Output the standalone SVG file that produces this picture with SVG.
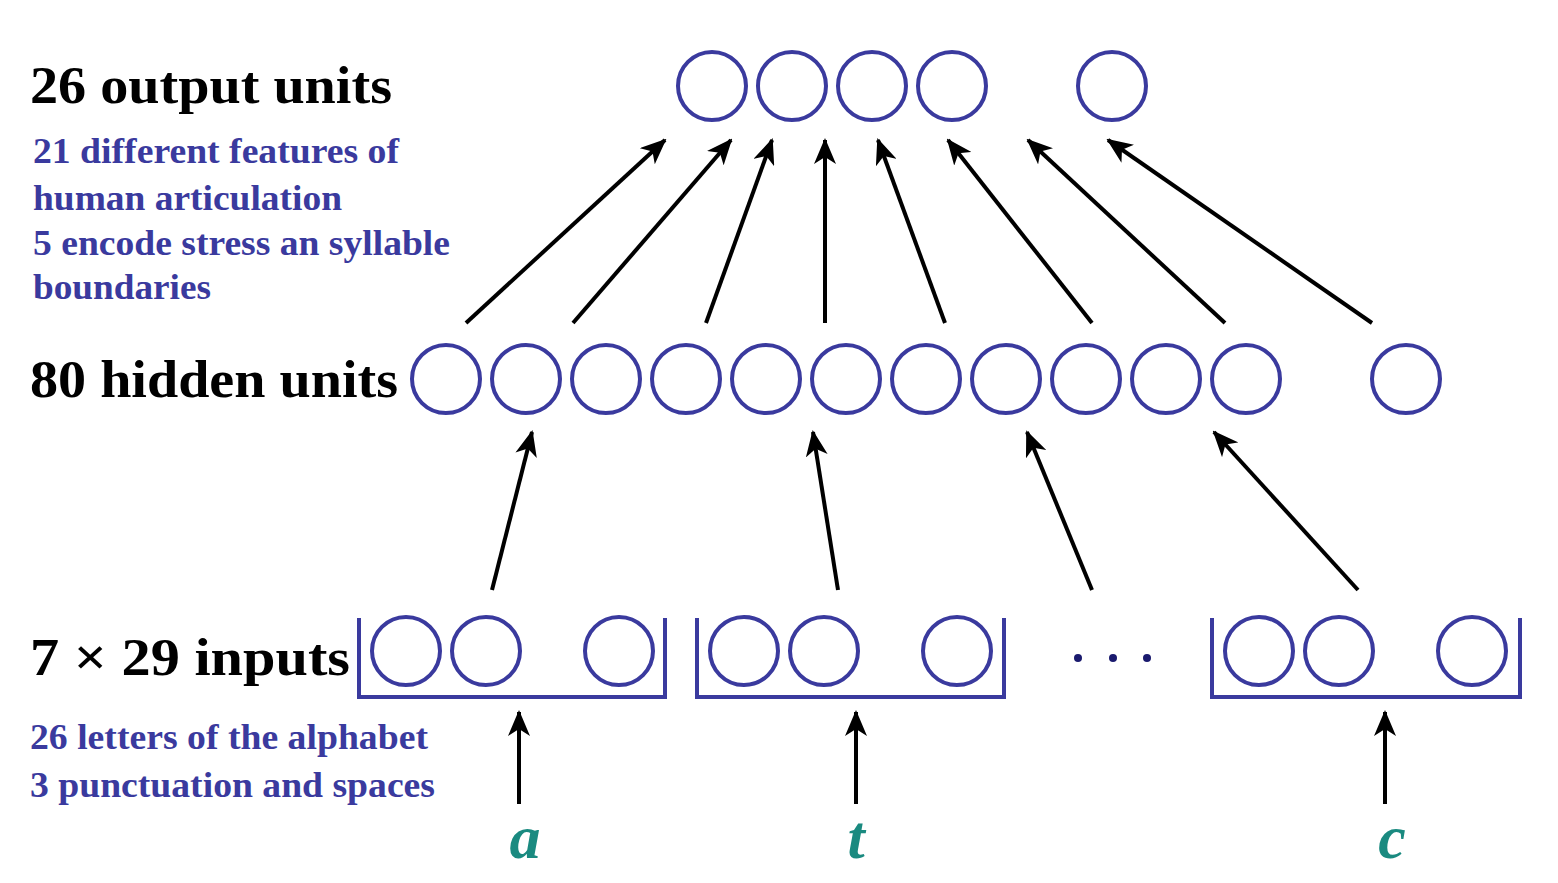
<svg xmlns="http://www.w3.org/2000/svg" width="1558" height="883" viewBox="0 0 1558 883">
<defs>
<marker id="ah" markerWidth="26" markerHeight="22" refX="24" refY="11" orient="auto" markerUnits="userSpaceOnUse" viewBox="0 0 26 22"><path d="M0,0 L26,11 L0,22 L7,11 Z" fill="#000"/></marker>
<style>
.n{fill:none;stroke:#3a3a9e;stroke-width:4}
.b{fill:none;stroke:#3a3a9e;stroke-width:4}
.c line{stroke:#000;stroke-width:4;marker-end:url(#ah)}
.h{font-family:"Liberation Serif",serif;font-weight:bold;font-size:52px;fill:#000}
.d{font-family:"Liberation Serif",serif;font-weight:bold;font-size:35px;fill:#3a3a9e}
.l{font-family:"Liberation Serif",serif;font-weight:bold;font-style:italic;font-size:62px;fill:#1a8a80;text-anchor:middle}
</style>
</defs>
<rect width="1558" height="883" fill="#fff"/>
<g id="labels">
<text class="h" x="30" y="103" textLength="362" lengthAdjust="spacingAndGlyphs">26 output units</text>
<text class="d" x="33" y="163" textLength="366" lengthAdjust="spacingAndGlyphs">21 different features of</text>
<text class="d" x="33" y="210" textLength="309" lengthAdjust="spacingAndGlyphs">human articulation</text>
<text class="d" x="33" y="255" textLength="417" lengthAdjust="spacingAndGlyphs">5 encode stress an syllable</text>
<text class="d" x="33" y="299" textLength="178" lengthAdjust="spacingAndGlyphs">boundaries</text>
<text class="h" x="30" y="397" textLength="368" lengthAdjust="spacingAndGlyphs">80 hidden units</text>
<text class="h" x="30" y="675" textLength="320" lengthAdjust="spacingAndGlyphs">7 × 29 inputs</text>
<text class="d" x="30" y="749" textLength="398" lengthAdjust="spacingAndGlyphs">26 letters of the alphabet</text>
<text class="d" x="30" y="797" textLength="405" lengthAdjust="spacingAndGlyphs">3 punctuation and spaces</text>
</g>
<g id="output">
<circle class="n" cx="712" cy="86" r="34"/><circle class="n" cx="792" cy="86" r="34"/><circle class="n" cx="872" cy="86" r="34"/><circle class="n" cx="952" cy="86" r="34"/><circle class="n" cx="1112" cy="86" r="34"/>
</g>
<g id="hidden">
<circle class="n" cx="446" cy="379" r="34"/><circle class="n" cx="526" cy="379" r="34"/><circle class="n" cx="606" cy="379" r="34"/><circle class="n" cx="686" cy="379" r="34"/><circle class="n" cx="766" cy="379" r="34"/><circle class="n" cx="846" cy="379" r="34"/><circle class="n" cx="926" cy="379" r="34"/><circle class="n" cx="1006" cy="379" r="34"/><circle class="n" cx="1086" cy="379" r="34"/><circle class="n" cx="1166" cy="379" r="34"/><circle class="n" cx="1246" cy="379" r="34"/><circle class="n" cx="1406" cy="379" r="34"/>
</g>
<g id="input-a">
<path class="b" d="M359,618 V697 H665 V618"/>
<circle class="n" cx="406" cy="651" r="34"/><circle class="n" cx="486" cy="651" r="34"/><circle class="n" cx="619" cy="651" r="34"/>
<text class="l" x="525" y="858">a</text>
</g>
<g id="input-t">
<path class="b" d="M697,618 V697 H1004 V618"/>
<circle class="n" cx="744" cy="651" r="34"/><circle class="n" cx="824" cy="651" r="34"/><circle class="n" cx="957" cy="651" r="34"/>
<text class="l" x="856" y="858">t</text>
</g>
<g id="input-c">
<path class="b" d="M1212,618 V697 H1520 V618"/>
<circle class="n" cx="1259" cy="651" r="34"/><circle class="n" cx="1339" cy="651" r="34"/><circle class="n" cx="1472" cy="651" r="34"/>
<text class="l" x="1392" y="858">c</text>
</g>
<g id="dots" fill="#1a1a6e"><circle cx="1078" cy="658" r="4"/><circle cx="1113" cy="658" r="4"/><circle cx="1147" cy="658" r="4"/></g>
<g id="connectors" class="c">
<line x1="466" y1="323" x2="665" y2="140"/>
<line x1="573" y1="323" x2="731" y2="140"/>
<line x1="706" y1="323" x2="772" y2="140"/>
<line x1="825" y1="323" x2="825" y2="140"/>
<line x1="945" y1="323" x2="878" y2="140"/>
<line x1="1092" y1="323" x2="948" y2="140"/>
<line x1="1225" y1="323" x2="1028" y2="140"/>
<line x1="1372" y1="323" x2="1108" y2="140"/>
<line x1="492" y1="590" x2="532" y2="432"/>
<line x1="838" y1="590" x2="813" y2="432"/>
<line x1="1092" y1="590" x2="1027" y2="432"/>
<line x1="1358" y1="590" x2="1214" y2="432"/>
<line x1="519" y1="804" x2="519" y2="712"/>
<line x1="856" y1="804" x2="856" y2="712"/>
<line x1="1385" y1="804" x2="1385" y2="712"/>
</g>
</svg>
